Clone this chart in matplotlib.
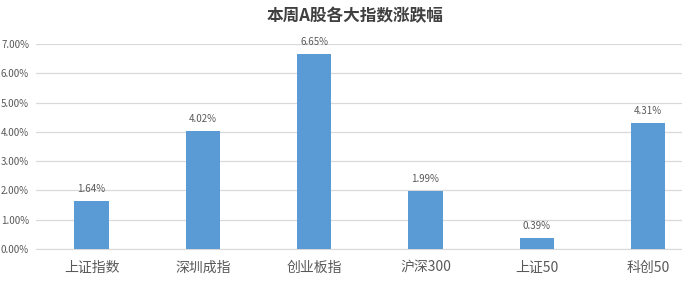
import numpy as np
import matplotlib
matplotlib.use("Agg")
import matplotlib.pyplot as plt
from matplotlib.ticker import FuncFormatter

plt.rcParams['font.family'] = ['Noto Sans CJK SC', 'DejaVu Sans']

# 数据
categories = ["上证指数", "深圳成指", "创业板指", "沪深300", "上证50", "科创50"]
changes = [1.64, 4.02, 6.65, 1.99, 0.39, 4.31]  # %
yticks = [0, 1, 2, 3, 4, 5, 6, 7]

bar_color = "#5B9BD5"
text_color = "#595959"
grid_color = "#D9D9D9"

fig = plt.figure(figsize=(6.82, 2.82), dpi=100)
# 原图右侧被裁切，轴域延伸到画布边缘
ax = fig.add_axes([36 / 682, 33 / 282, 646 / 682, 205 / 282])

x = np.arange(len(categories))
bars = ax.bar(x, changes, width=0.31, color=bar_color, zorder=3)

for xi, v in zip(x, changes):
    ax.annotate(f"{v:.2f}%", xy=(xi, v), xytext=(0, 5),
                textcoords="offset points", ha="center", va="bottom",
                fontsize=7, color=text_color)

ax.set_xlim(-0.5, 5.305)
ax.set_ylim(0, 7)
ax.set_yticks(yticks)
ax.yaxis.set_major_formatter(FuncFormatter(lambda v, _: f"{v:.2f}%"))
ax.set_xticks(x)
ax.set_xticklabels(categories)

ax.tick_params(axis="y", length=0, pad=5, labelsize=7, labelcolor=text_color)
ax.tick_params(axis="x", length=0, pad=8.5, labelsize=10, labelcolor=text_color)

ax.grid(axis="y", color=grid_color, lw=0.9, zorder=0)
for s in ["top", "right", "left"]:
    ax.spines[s].set_visible(False)
ax.spines["bottom"].set_color(grid_color)

fig.text(355 / 682, 1 - 16 / 282, "本周A股各大指数涨跌幅", ha="center", va="center",
         fontsize=12, fontweight="bold", color="#404040")

fig.savefig("out.png", dpi=100)
